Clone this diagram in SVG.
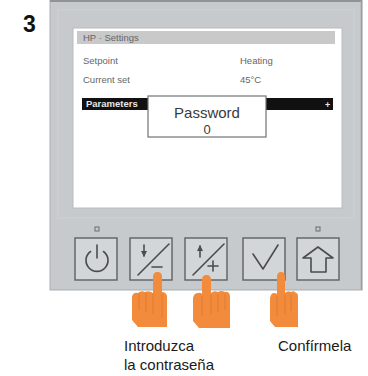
<svg xmlns="http://www.w3.org/2000/svg" width="368" height="376" viewBox="0 0 368 376">
  <style>
    .sans { font-family: "Liberation Sans", Arial, sans-serif; }
    .scr { font-family: "Liberation Sans", Arial, sans-serif; font-size: 9.5px; fill: #666; }
    .btn { fill: #d3d6d8; stroke: #5f6163; stroke-width: 1.4; }
    .ico { fill: none; stroke: #4a4c4e; stroke-width: 1.6; stroke-linecap: round; stroke-linejoin: round; }
    .hand { fill: #f28b3c; }
    .crease { fill: none; stroke: #e07a30; stroke-width: 1; }
    .lbl { font-family: "Liberation Sans", Arial, sans-serif; font-size: 15px; fill: #1a1a1a; }
  </style>

  <rect width="368" height="376" fill="#ffffff"/>

  <!-- step number -->
  <text class="sans" x="23" y="32" font-size="23" font-weight="bold" fill="#111">3</text>

  <!-- controller housing -->
  <g id="housing">
    <rect x="50" y="-2" width="312" height="292" fill="#c6cacd" stroke="#a9adb0" stroke-width="1"/>
    <rect x="50" y="-2" width="312" height="4" fill="#8f9396"/>
    <line x1="361.5" y1="0" x2="361.5" y2="290" stroke="#9a9ea1" stroke-width="1.5"/>
    <rect x="58" y="10" width="296" height="208" fill="none" stroke="#cfd2d4" stroke-width="1"/>
  </g>

  <!-- display -->
  <g id="display">
    <rect x="73" y="28" width="269" height="180" fill="#ffffff" stroke="#b9bcbf" stroke-width="1"/>
    <rect x="77" y="31" width="258" height="13" fill="#c9c9c9"/>
    <text class="scr" x="83" y="41">HP · Settings</text>
    <text class="scr" x="83" y="64">Setpoint</text>
    <text class="scr" x="240" y="64">Heating</text>
    <text class="scr" x="83" y="83">Current set</text>
    <text class="scr" x="240" y="83">45°C</text>
    <rect x="82" y="98" width="251" height="12" fill="#111111"/>
    <text class="sans" x="86" y="107" font-size="9.5" font-weight="bold" fill="#e8e8e8">Parameters</text>
    <text class="sans" x="325" y="107.5" font-size="9" font-weight="bold" fill="#e8e8e8">+</text>
  </g>

  <!-- password popup -->
  <g id="password-popup">
    <rect x="148" y="96" width="118" height="41" fill="#ffffff" stroke="#707274" stroke-width="1.2"/>
    <text class="sans" x="207" y="118" font-size="15" fill="#3a3a3a" text-anchor="middle">Password</text>
    <text class="sans" x="207" y="134" font-size="13" fill="#3a3a3a" text-anchor="middle">0</text>
  </g>

  <!-- status indicators -->
  <rect x="95" y="227" width="4" height="4" fill="none" stroke="#6a6c6e" stroke-width="1"/>
  <rect x="316" y="227" width="4" height="4" fill="none" stroke="#6a6c6e" stroke-width="1"/>

  <!-- keys -->
  <g id="key-power">
    <rect class="btn" x="75" y="238" width="42" height="42"/>
    <path class="ico" d="M90.5,251.5 A11,11 0 1 0 103.5,251.5"/>
    <line class="ico" x1="97" y1="245" x2="97" y2="258"/>
  </g>
  <g id="key-minus">
    <rect class="btn" x="130" y="238" width="42" height="42"/>
    <line class="ico" x1="138" y1="275" x2="169" y2="244"/>
    <line class="ico" x1="144" y1="245" x2="144" y2="256"/>
    <path d="M141,251 L147,251 L144,257 Z" fill="#4a4c4e"/>
    <line class="ico" x1="152" y1="267" x2="162" y2="267"/>
  </g>
  <g id="key-plus">
    <rect class="btn" x="185" y="238" width="42" height="42"/>
    <line class="ico" x1="193" y1="275" x2="224" y2="244"/>
    <line class="ico" x1="200" y1="246" x2="200" y2="257"/>
    <path d="M197,251 L203,251 L200,245 Z" fill="#4a4c4e"/>
    <line class="ico" x1="208" y1="266" x2="218" y2="266"/>
    <line class="ico" x1="213" y1="261" x2="213" y2="271"/>
  </g>
  <g id="key-confirm">
    <rect class="btn" x="243" y="238" width="42" height="42"/>
    <path class="ico" d="M253,254 L263,269 L278,245"/>
  </g>
  <g id="key-home">
    <rect class="btn" x="297" y="238" width="42" height="42"/>
    <path class="ico" d="M318,247 L303,258 L311,258 L311,272 L326,272 L326,258 L333,258 Z"/>
  </g>

  <!-- pressing hands -->
  <g id="hand-1">
    <path class="hand" d="M153,292 L153,277 Q153,272 157.5,272 Q162,272 162,277 L162,292 Q166,292 167,296 L167,327 L138,327 L132,320 L132,297 Q133,292 138,293 Q141,290 145,292 Q149,290 153,293 Z"/>
    <path class="crease" d="M139,294 L139,310 M146,293 L146,312 M153,294 L153,314 M162,294 L162,318"/>
  </g>
  <g id="hand-2">
    <path class="hand" d="M202,294 L202,280 Q202,275 206.5,275 Q211,275 211,280 L211,293 Q214,290 218,292 Q221,290 225,292 Q229,291 230,296 L230,328 L199,328 L193,321 L193,298 Q194,293 198,293 Q201,292 202,294 Z"/>
    <path class="crease" d="M202,296 L202,316 M211,295 L211,314 M218,294 L218,312 M225,294 L225,310"/>
  </g>
  <g id="hand-3">
    <path class="hand" d="M277,294 L277,277 Q277,272 281,272 Q285,272 285,277 L285,293 Q288,290 291,292 Q294,290 296,293 Q298,293 298,297 L298,327 L275,327 L270,321 L270,298 Q271,293 274,293 Q276,293 277,294 Z"/>
    <path class="crease" d="M277,296 L277,316 M285,295 L285,314 M291,294 L291,311"/>
  </g>

  <!-- captions -->
  <text class="lbl" x="124" y="351">Introduzca</text>
  <text class="lbl" x="124" y="370">la contraseña</text>
  <text class="lbl" x="278" y="351">Confírmela</text>
</svg>
